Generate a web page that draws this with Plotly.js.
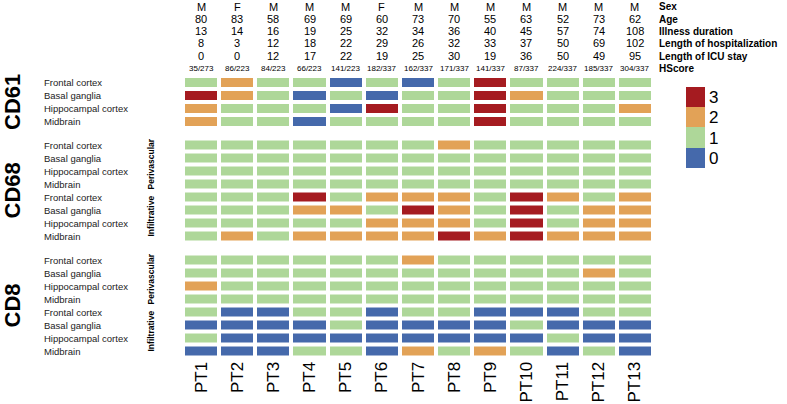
<!DOCTYPE html>
<html>
<head>
<meta charset="utf-8">
<script src="https://cdn.plot.ly/plotly-3.0.1.min.js"></script>
<style>html,body{margin:0;padding:0;background:#fff}#chart{width:787px;height:404px}</style>
</head>
<body>
<div id="chart"></div>
<script>
// ---- data ----
const patients = ["PT1","PT2","PT3","PT4","PT5","PT6","PT7","PT8","PT9","PT10","PT11","PT12","PT13"];
const sex = ["M","F","M","M","M","F","M","M","M","M","M","M","M"];
const age = [80,83,58,69,69,60,73,70,55,63,52,73,62];
const illnessDuration = [13,14,16,19,25,32,34,36,40,45,57,74,108];
const hospitalization = [8,3,12,18,22,29,26,32,33,37,50,69,102];
const icuStay = [0,0,12,17,22,19,25,30,19,36,50,49,95];
const hscore = ["35/273","86/223","84/223","66/223","141/223","182/337","162/337","171/337","141/337","87/337","224/337","185/337","304/337"];
const headerLabels = ["Sex","Age","Illness duration","Length of hospitalization","Length of ICU stay","HScore"];
const regions = ["Frontal cortex","Basal ganglia","Hippocampal cortex","Midbrain"];
const scoreLevels = [0,1,2,3];

// rows: Frontal, Basal, Hippocampal, Midbrain ; columns PT1..PT13
const cd61 = [
  [1,2,1,1,0,1,0,1,3,1,1,1,1],
  [3,2,1,0,1,0,1,1,3,2,1,1,1],
  [2,1,1,1,0,3,1,1,3,1,1,1,2],
  [2,1,1,0,1,1,1,1,3,1,1,1,1]
];
const cd68Perivascular = [
  [1,1,1,1,1,1,1,2,1,1,1,1,1],
  [1,1,1,1,1,1,1,1,1,1,1,1,1],
  [1,1,1,1,1,1,1,1,1,1,1,1,1],
  [1,1,1,1,1,1,1,1,1,1,1,1,1]
];
const cd68Infiltrative = [
  [1,1,1,3,1,2,2,2,1,3,2,1,2],
  [1,1,1,2,2,1,3,2,1,3,1,2,2],
  [1,1,1,1,1,2,2,2,1,3,1,2,2],
  [1,2,1,2,2,2,2,3,2,3,2,2,2]
];
const cd8Perivascular = [
  [1,1,1,1,1,1,2,1,1,1,1,1,1],
  [1,1,1,1,1,1,1,1,1,1,1,2,1],
  [2,1,1,1,1,1,1,1,1,1,1,1,1],
  [1,1,1,1,1,1,1,1,1,1,1,1,1]
];
const cd8Infiltrative = [
  [1,0,0,1,1,0,1,1,0,0,0,1,1],
  [0,0,0,0,1,0,0,0,0,1,0,0,0],
  [1,0,0,0,0,0,0,0,0,0,1,0,0],
  [0,0,0,1,1,0,2,1,2,1,0,1,0]
];

// ---- styling ----
const W = 787, H = 404;
const C0 = "#4569AB", C1 = "#AED799", C2 = "#E2A257", C3 = "#A51B20";
const colorscale = [[0,C0],[0.25,C0],[0.25,C1],[0.5,C1],[0.5,C2],[0.75,C2],[0.75,C3],[1,C3]];
const FONT = "Liberation Sans, Arial, Helvetica, sans-serif";
const py = v => 1 - v / H;
const px = v => v / W;

function hm(z, yaxis, showscale) {
  const t = {
    type: "heatmap",
    x: patients,
    y: z.map((_, i) => i),
    z: z,
    xaxis: "x",
    yaxis: yaxis,
    zmin: -0.5, zmax: 3.5,
    colorscale: colorscale,
    xgap: 4, ygap: 4,
    hoverinfo: "skip",
    showscale: showscale
  };
  if (showscale) {
    t.colorbar = {
      x: px(686), xanchor: "left", xpad: 0,
      y: py(87), yanchor: "top", ypad: 0,
      len: 81 / H, lenmode: "fraction",
      thickness: 19, thicknessmode: "pixels",
      outlinewidth: 0,
      tickvals: scoreLevels, ticktext: scoreLevels.map(String),
      ticks: "", ticklen: 0,
      tickfont: {family: FONT, size: 17, color: "#000"}
    };
  }
  return t;
}

const cd68 = cd68Perivascular.concat(cd68Infiltrative);
const cd8 = cd8Perivascular.concat(cd8Infiltrative);
const data = [hm(cd61, "y", true), hm(cd68, "y2", false), hm(cd8, "y3", false)];

const annotations = [];
// header rows
const headerRows = [sex, age, illnessDuration, hospitalization, icuStay];
const headerY = [6.5, 19, 31.5, 43.5, 56, 68.5];
headerRows.forEach((row, r) => {
  row.forEach((v, i) => annotations.push({
    xref: "x", yref: "paper", x: patients[i], y: py(headerY[r]),
    text: String(v), showarrow: false, xanchor: "center", yanchor: "middle",
    borderpad: 0,
    font: {family: FONT, size: 11, color: "#000"}
  }));
});
hscore.forEach((v, i) => annotations.push({
  xref: "x", yref: "paper", x: patients[i], y: py(headerY[5]),
  text: v, showarrow: false, xanchor: "center", yanchor: "middle",
  borderpad: 0,
  font: {family: FONT, size: 8, color: "#000"}
}));
headerLabels.forEach((t, r) => annotations.push({
  xref: "paper", yref: "paper", x: px(658), y: py(headerY[r]),
  text: "<b>" + t + "</b>", showarrow: false, xanchor: "left", yanchor: "middle",
  borderpad: 0,
  font: {family: FONT, size: 10, color: "#000"}
}));
// row labels
function rowLabels(n, yref) {
  for (let i = 0; i < n; i++) {
    annotations.push({
      xref: "paper", yref: yref, x: px(43), y: i,
      text: regions[i % 4], showarrow: false, xanchor: "left", yanchor: "middle",
      borderpad: 0,
      font: {family: FONT, size: 9.5, color: "#222"}
    });
  }
}
rowLabels(4, "y"); rowLabels(8, "y2"); rowLabels(8, "y3");
// big marker labels
[["CD61", 102], ["CD68", 190.5], ["CD8", 305.5]].forEach(([t, yc]) => annotations.push({
  xref: "paper", yref: "paper", x: px(12), y: py(yc), textangle: -90,
  text: "<b>" + t + "</b>", showarrow: false, xanchor: "center", yanchor: "middle",
  font: {family: FONT, size: 22, color: "#000"}
}));
// sub-group labels
[["Perivascular", "y2", 1.5], ["Infiltrative", "y2", 5.5], ["Perivascular", "y3", 1.5], ["Infiltrative", "y3", 5.5]].forEach(([t, yr, yv]) => annotations.push({
  xref: "paper", yref: yr, x: px(150), y: yv, textangle: -90,
  text: "<b>" + t + "</b>", showarrow: false, xanchor: "center", yanchor: "middle",
  font: {family: FONT, size: 8.5, color: "#000"}
}));

const yBase = {showgrid: false, zeroline: false, showticklabels: false, ticks: "", showline: false, fixedrange: true};
const layout = {
  width: W, height: H,
  margin: {l: 0, r: 0, t: 0, b: 0, pad: 0},
  paper_bgcolor: "#fff", plot_bgcolor: "#fff",
  showlegend: false,
  xaxis: {
    domain: [px(183), px(653)], anchor: "y3",
    type: "category", categoryorder: "array", categoryarray: patients,
    tickangle: -90, ticks: "", showgrid: false, zeroline: false, showline: false,
    tickfont: {family: FONT, size: 17, color: "#000"},
    automargin: false
  },
  yaxis: Object.assign({domain: [py(128), py(76)], range: [3.5, -0.5], anchor: "x"}, yBase),
  yaxis2: Object.assign({domain: [py(242.5), py(138.5)], range: [7.5, -0.5], anchor: "x"}, yBase),
  yaxis3: Object.assign({domain: [py(357.5), py(253.5)], range: [7.5, -0.5], anchor: "x"}, yBase),
  annotations: annotations
};

Plotly.newPlot("chart", data, layout, {staticPlot: true, displayModeBar: false});
</script>
</body>
</html>
